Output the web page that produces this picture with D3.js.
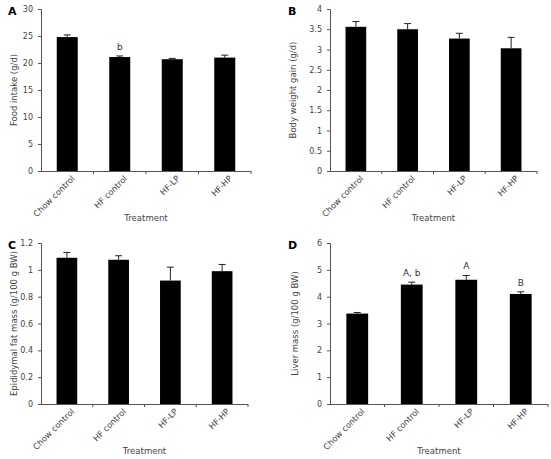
<!DOCTYPE html>
<html><head><meta charset="utf-8">
<script src="https://cdn.jsdelivr.net/npm/d3@7"></script>
<style>
body{margin:0;background:#fff;}
svg{display:block;font-family:"DejaVu Sans",Verdana,sans-serif;}
</style></head>
<body>
<svg id="chart" width="551" height="459"></svg>
<script>
const categories = ["Chow control", "HF control", "HF-LP", "HF-HP"];

const foodIntake = [24.8, 21.1, 20.7, 21.0];
const foodIntakeErr = [0.4, 0.2, 0.15, 0.45];
const foodIntakeNotes = ["", "b", "", ""];
const foodTicks = [0, 5, 10, 15, 20, 25, 30];

const weightGain = [3.56, 3.50, 3.27, 3.03];
const weightGainErr = [0.13, 0.14, 0.13, 0.27];
const weightNotes = ["", "", "", ""];
const weightTicks = [0, 0.5, 1, 1.5, 2, 2.5, 3, 3.5, 4];

const fatMass = [1.09, 1.075, 0.92, 0.99];
const fatMassErr = [0.04, 0.03, 0.10, 0.05];
const fatNotes = ["", "", "", ""];
const fatTicks = [0, 0.2, 0.4, 0.6, 0.8, 1, 1.2];

const liverMass = [3.37, 4.45, 4.63, 4.10];
const liverMassErr = [0.04, 0.09, 0.16, 0.08];
const liverNotes = ["", "A, b", "A", "B"];
const liverTicks = [0, 1, 2, 3, 4, 5, 6];

const svg = d3.select("#chart");

const panels = [
  {letter:"A", values:foodIntake, errs:foodIntakeErr, notes:foodIntakeNotes, ticks:foodTicks,
   ytitle:"Food intake (g/d)", left:41, right:251, top:9, bottom:171, lx:8, ly:15, tx:17},
  {letter:"B", values:weightGain, errs:weightGainErr, notes:weightNotes, ticks:weightTicks,
   ytitle:"Body weight gain (g/d)", left:330, right:537, top:9, bottom:171, lx:288, ly:15, tx:296},
  {letter:"C", values:fatMass, errs:fatMassErr, notes:fatNotes, ticks:fatTicks,
   ytitle:"Epididymal fat mass (g/100 g BW)", left:41, right:248, top:243, bottom:404, lx:8, ly:249, tx:17},
  {letter:"D", values:liverMass, errs:liverMassErr, notes:liverNotes, ticks:liverTicks,
   ytitle:"Liver mass (g/100 g BW)", left:330, right:548, top:243, bottom:404, lx:288, ly:249, tx:298}
];

panels.forEach(p => {
  const g = svg.append("g");
  const x = d3.scaleBand().domain(categories).range([p.left, p.right]).paddingInner(0.6).paddingOuter(0.3);
  const y = d3.scaleLinear().domain([p.ticks[0], p.ticks[p.ticks.length-1]]).range([p.bottom, p.top]);

  // bars
  g.selectAll("rect.bar").data(categories).join("rect")
    .attr("x", d => x(d)).attr("width", x.bandwidth())
    .attr("y", (d,i) => y(p.values[i])).attr("height", (d,i) => y(0) - y(p.values[i]))
    .attr("fill", "#000");

  // error bars (upper)
  const cap = 3.5;
  categories.forEach((c,i) => {
    const cx = x(c) + x.bandwidth()/2;
    const y1 = y(p.values[i]), y2 = y(p.values[i] + p.errs[i]);
    g.append("line").attr("x1", cx).attr("x2", cx).attr("y1", y1).attr("y2", y2)
      .attr("stroke", "#222").attr("stroke-width", 1);
    g.append("line").attr("x1", cx-cap).attr("x2", cx+cap).attr("y1", y2).attr("y2", y2)
      .attr("stroke", "#222").attr("stroke-width", 1);
    if (p.notes[i]) {
      g.append("text").attr("x", cx).attr("y", y2 - 6).attr("text-anchor", "middle")
        .attr("font-size", 9).attr("fill", "#333").text(p.notes[i]);
    }
  });

  // y axis
  const yAxis = d3.axisLeft(y).tickValues(p.ticks).tickSize(3).tickPadding(5).tickFormat(d => String(d));
  const ya = g.append("g").attr("transform", `translate(${p.left},0)`).call(yAxis);
  ya.select(".domain").attr("stroke", "#555").attr("d", `M-3,${p.top}.5H0.5V${p.bottom}`);
  ya.selectAll(".tick line").attr("stroke", "#555");
  ya.selectAll(".tick text").attr("font-size", 8).attr("fill", "#444")
    .attr("font-family", "DejaVu Sans, Verdana, sans-serif");

  // x axis line and boundary ticks
  g.append("line").attr("x1", p.left).attr("x2", p.right).attr("y1", p.bottom+0.5).attr("y2", p.bottom+0.5)
    .attr("stroke", "#555");
  g.selectAll("line.bt").data(categories).join("line")
    .attr("x1", (d,i) => p.left + (i+1)*(p.right-p.left)/categories.length)
    .attr("x2", (d,i) => p.left + (i+1)*(p.right-p.left)/categories.length)
    .attr("y1", p.bottom).attr("y2", p.bottom+3).attr("stroke", "#555");

  // x labels
  g.selectAll("text.xl").data(categories).join("text")
    .attr("text-anchor", "end").attr("font-size", 8.3).attr("fill", "#444")
    .attr("transform", d => `translate(${x(d)+x.bandwidth()/2+8},${p.bottom+8}) rotate(-45)`)
    .text(d => d);

  // x title
  g.append("text").attr("x", (p.left+p.right)/2).attr("y", p.bottom+50).attr("text-anchor", "middle")
    .attr("font-size", 8.5).attr("fill", "#444").text("Treatment");

  // y title
  g.append("text").attr("transform", `translate(${p.tx},${(p.top+p.bottom)/2}) rotate(-90)`)
    .attr("text-anchor", "middle").attr("font-size", 8.5).attr("fill", "#444").text(p.ytitle);

  // panel letter
  g.append("text").attr("x", p.lx).attr("y", p.ly).attr("font-size", 11).attr("font-weight", "bold")
    .attr("fill", "#000").text(p.letter);
});
</script>
</body></html>
